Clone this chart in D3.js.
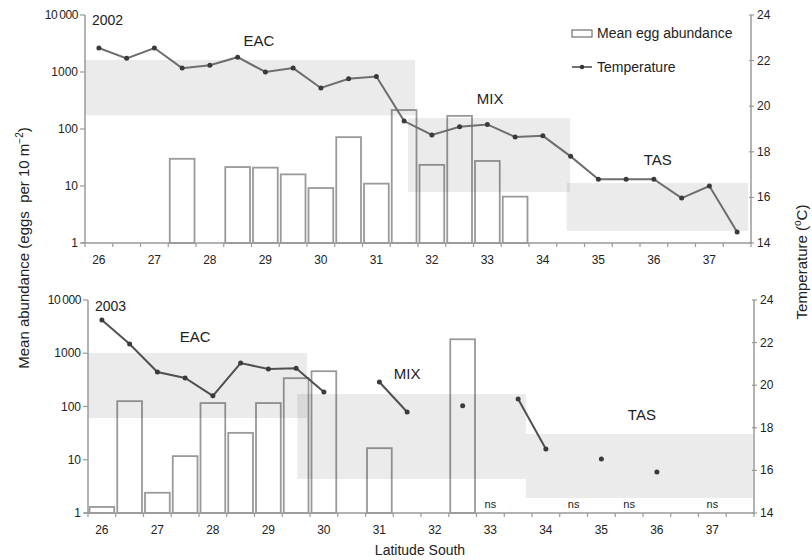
<!DOCTYPE html>
<html><head><meta charset="utf-8">
<script src="https://cdn.jsdelivr.net/npm/d3@7"></script>
<style>body{margin:0;background:#fff} svg{display:block;font-family:"Liberation Sans",Arial,sans-serif}</style>
</head><body><svg id="c" width="812" height="560"></svg>
<script>
// ---------- data ----------
const latitudes = ["26","26.5","27","27.5","28","28.5","29","29.5","30","30.5","31","31.5",
                   "32","32.5","33","33.5","34","34.5","35","35.5","36","36.5","37","37.5"];
const latTickLabels = ["26","27","28","29","30","31","32","33","34","35","36","37"];
const abundanceTicks = [1, 10, 100, 1000, 10000];
const abundanceTickLabels = ["1", "10", "100", "1000", "10\u2009000"];
const tempTicks = [14, 16, 18, 20, 22, 24];

const egg2002 = [null,null,null,30,null,21.5,21,16,9.2,72,11,215,23.5,170,27.5,6.5,
                 null,null,null,null,null,null,null,null];
const temp2002 = [22.55,22.1,22.55,21.67,21.8,22.15,21.5,21.67,20.8,21.2,21.3,19.35,
                  18.74,19.1,19.2,18.65,18.7,17.8,16.8,16.8,16.8,15.97,16.5,14.48];

const egg2003 = [1.3,126,2.4,11.7,116,32,116,340,460,null,16.5,null,null,1830,null,null,
                 null,null,null,null,null,null,null,null];
const temp2003 = [23.06,21.93,20.62,20.34,19.5,21.04,20.76,20.8,19.68,null,20.15,18.74,
                  null,19.03,null,19.35,17.0,null,16.54,null,15.92,null,null,null];
const ns2003 = ["33","34.5","35.5","37"];

const zoneNames = ["EAC","MIX","TAS"];
const zoneLat2002 = [[25.75,31.7],[31.57,34.49],[34.43,37.7]];
const zoneTemp2002 = [[19.6,22.03],[16.24,19.48],[14.53,16.63]];
const zoneLat2003 = [[25.75,29.7],[29.52,33.64],[33.64,37.73]];
const zoneTemp2003 = [[18.46,21.51],[15.6,19.59],[14.7,17.71]];

// ---------- layout ----------
const svg = d3.select("#c");
const panels = [
  {year:"2002", eggs:egg2002, temps:temp2002, zLat:zoneLat2002, zTemp:zoneTemp2002, ns:[],
   x0:85, x1:751, yTop:15, yBot:243, lineColor:"#6e6e6e",
   yearPos:[25.876,23.56], zoneLabelPos:[[28.885,22.64],[33.05,20.1],[36.07,17.42]]},
  {year:"2003", eggs:egg2003, temps:temp2003, zLat:zoneLat2003, zTemp:zoneTemp2003, ns:ns2003,
   x0:88, x1:754, yTop:300, yBot:513, lineColor:"#505050",
   yearPos:[25.876,23.48], zoneLabelPos:[[27.68,22.03],[31.5,20.29],[35.73,18.37]]}
];
const axisColor = "#9a9a9a";
const textColor = "#222";

panels.forEach(p => {
  const xb = d3.scaleBand().domain(latitudes).range([p.x0, p.x1]).padding(0);
  const step = xb.step();
  const xl = d3.scaleLinear().domain([25.75, 37.75]).range([p.x0, p.x1]);
  const yA = d3.scaleLog().domain([1, 10000]).range([p.yBot, p.yTop]);
  const yT = d3.scaleLinear().domain([14, 24]).range([p.yBot, p.yTop]);
  const g = svg.append("g");

  // bars
  const barData = latitudes.map((l, i) => ({lat:l, v:p.eggs[i]})).filter(d => d.v != null);
  g.selectAll("rect.bar").data(barData).join("rect").attr("class","bar")
    .attr("x", d => xb(d.lat) + 1.5).attr("width", step - 3)
    .attr("y", d => yA(d.v)).attr("height", d => p.yBot - yA(d.v))
    .attr("fill", "#fff").attr("stroke", axisColor).attr("stroke-width", 1.8);

  // zones (semi-transparent, over bars)
  g.selectAll("rect.zone").data(zoneNames.map((n, i) => ({n, lat:p.zLat[i], t:p.zTemp[i]})))
    .join("rect").attr("class","zone")
    .attr("x", d => xl(d.lat[0])).attr("width", d => xl(d.lat[1]) - xl(d.lat[0]))
    .attr("y", d => yT(d.t[1])).attr("height", d => yT(d.t[0]) - yT(d.t[1]))
    .attr("fill", "#000").attr("fill-opacity", 0.08);

  // axes lines
  g.append("line").attr("x1", p.x0 - 4).attr("x2", p.x1).attr("y1", p.yBot).attr("y2", p.yBot)
    .attr("stroke", axisColor).attr("stroke-width", 1.5);
  g.append("line").attr("x1", p.x0).attr("x2", p.x0).attr("y1", p.yTop).attr("y2", p.yBot)
    .attr("stroke", axisColor).attr("stroke-width", 1.5);
  g.append("line").attr("x1", p.x1).attr("x2", p.x1).attr("y1", p.yTop).attr("y2", p.yBot)
    .attr("stroke", axisColor).attr("stroke-width", 1.5);

  // x ticks at bin edges
  const edges = latitudes.map(l => xb(l)).concat([p.x1]);
  g.selectAll("line.xt").data(edges).join("line").attr("class","xt")
    .attr("x1", d => d).attr("x2", d => d).attr("y1", p.yBot).attr("y2", p.yBot + 4)
    .attr("stroke", axisColor).attr("stroke-width", 1.2);
  g.selectAll("text.xl").data(latTickLabels).join("text").attr("class","xl")
    .attr("x", d => xb(d) + step / 2).attr("y", p.yBot + 21)
    .attr("text-anchor", "middle").attr("font-size", 12).attr("fill", textColor).text(d => d);

  // left ticks
  g.selectAll("line.yl").data(abundanceTicks).join("line").attr("class","yl")
    .attr("x1", p.x0 - 5).attr("x2", p.x0).attr("y1", d => yA(d)).attr("y2", d => yA(d))
    .attr("stroke", axisColor).attr("stroke-width", 1.2);
  g.selectAll("text.yl").data(abundanceTicks).join("text").attr("class","yl")
    .attr("x", p.x0 - 7).attr("y", d => yA(d) + 4).attr("text-anchor", "end")
    .attr("font-size", 12).attr("fill", textColor)
    .attr("letter-spacing", (d, i) => i === 4 ? -0.4 : 0)
    .text((d, i) => abundanceTickLabels[i]);

  // right ticks
  g.selectAll("line.yr").data(tempTicks).join("line").attr("class","yr")
    .attr("x1", p.x1 - 2).attr("x2", p.x1 + 3).attr("y1", d => yT(d)).attr("y2", d => yT(d))
    .attr("stroke", axisColor).attr("stroke-width", 1.2);
  g.selectAll("text.yr").data(tempTicks).join("text").attr("class","yr")
    .attr("x", p.x1 + 6).attr("y", d => yT(d) + 4).attr("text-anchor", "start")
    .attr("font-size", 12).attr("fill", textColor).text(d => d);

  // temperature line
  const tData = latitudes.map((l, i) => ({lat:l, t:p.temps[i]}));
  const line = d3.line().defined(d => d.t != null)
    .x(d => xb(d.lat) + step / 2).y(d => yT(d.t));
  g.append("path").datum(tData).attr("d", line).attr("fill", "none")
    .attr("stroke", p.lineColor).attr("stroke-width", 2);
  g.selectAll("circle.pt").data(tData.filter(d => d.t != null)).join("circle").attr("class","pt")
    .attr("cx", d => xb(d.lat) + step / 2).attr("cy", d => yT(d.t)).attr("r", 2.5)
    .attr("fill", "#3a3a3a");

  // ns labels
  g.selectAll("text.ns").data(p.ns).join("text").attr("class","ns")
    .attr("x", d => xb(d) + step / 2).attr("y", p.yBot - 5).attr("text-anchor", "middle")
    .attr("font-size", 11).attr("fill", textColor).text("ns");

  // year and zone labels
  g.append("text").attr("x", xl(p.yearPos[0])).attr("y", yT(p.yearPos[1]))
    .attr("font-size", 14).attr("fill", textColor).text(p.year);
  g.selectAll("text.zl").data(zoneNames).join("text").attr("class","zl")
    .attr("x", (d, i) => xl(p.zoneLabelPos[i][0])).attr("y", (d, i) => yT(p.zoneLabelPos[i][1]))
    .attr("text-anchor", "middle").attr("font-size", 15).attr("fill", textColor).text(d => d);
});

// legend
const lg = svg.append("g");
lg.append("rect").attr("x", 572).attr("y", 30).attr("width", 20).attr("height", 7)
  .attr("fill", "#fff").attr("stroke", "#555").attr("stroke-width", 1);
lg.append("text").attr("x", 597).attr("y", 38).attr("font-size", 14).attr("fill", textColor)
  .text("Mean egg abundance");
lg.append("line").attr("x1", 572).attr("x2", 592).attr("y1", 67).attr("y2", 67)
  .attr("stroke", "#444").attr("stroke-width", 1.5);
lg.append("circle").attr("cx", 582).attr("cy", 67).attr("r", 2.2).attr("fill", "#333");
lg.append("text").attr("x", 597).attr("y", 72).attr("font-size", 14).attr("fill", textColor)
  .text("Temperature");

// axis titles
const lt = svg.append("text").attr("transform", "translate(29,248) rotate(-90)")
  .attr("text-anchor", "middle").attr("font-size", 15).attr("fill", textColor);
lt.append("tspan").text("Mean abundance (eggs\u00a0\u00a0per 10 m");
lt.append("tspan").attr("font-size", 10).attr("dy", -6).text("\u22122");
lt.append("tspan").attr("dy", 6).text(")");

const rt = svg.append("text").attr("transform", "translate(807,262) rotate(-90)")
  .attr("text-anchor", "middle").attr("font-size", 15).attr("fill", textColor);
rt.append("tspan").text("Temperature (");
rt.append("tspan").attr("font-size", 10).attr("dy", -6).text("o");
rt.append("tspan").attr("dy", 6).text("C)");

svg.append("text").attr("x", 420).attr("y", 555).attr("text-anchor", "middle")
  .attr("font-size", 14).attr("fill", textColor).text("Latitude South");
</script></body></html>
